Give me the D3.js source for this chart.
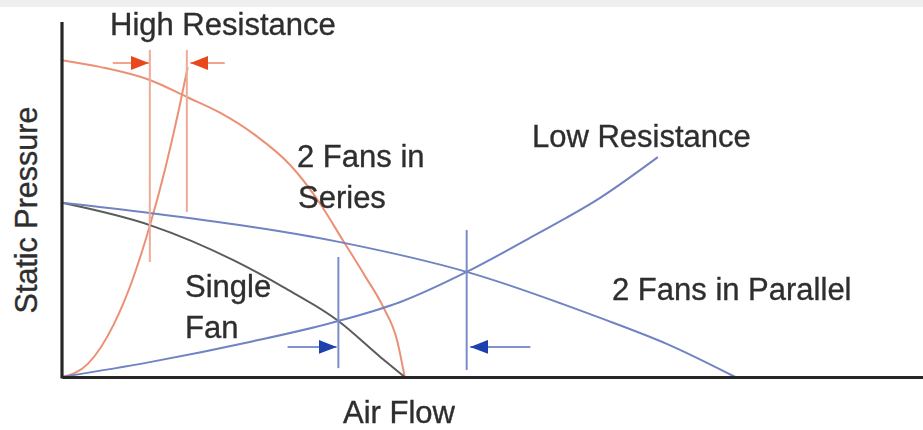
<!DOCTYPE html>
<head>
<meta charset="utf-8">
<title>Fans in Series and Parallel</title>
<script src="https://d3js.org/d3.v7.min.js"></script>
<style>
  body { margin: 0; background: #fff; }
  text { font-family: "Liberation Sans", Arial, Helvetica, sans-serif; fill: #2e2e2e; stroke: #2e2e2e; stroke-width: 0.35px; }
</style>
</head>
<body>
<div id="fan_chart"></div>
<script>
// curves (x = air flow 0-100, y = static pressure 0-100)
var seriesFans = [[0,89.5],[4.4,87.6],[10.2,83.9],[14.5,79.1],[18.4,74.6],[22.4,68.4],[26.5,59.9],[29.7,50],[32.6,38.7],[35.2,28.5],[37.3,19.8],[38.9,10.5],[39.8,0]];
var singleFan = [[0,49.2],[10.2,42.9],[19.9,33],[25.7,25.4],[32.1,15.8],[37,5.6],[39.8,0]];
var parallelFans = [[0,49.2],[10.2,46.3],[32.3,38.1],[47,29.7],[62.5,16.7],[70.3,9.3],[78.2,0]];
var lowResistance = [[0,0],[10.2,4.2],[21.8,9.9],[32.1,15.8],[39.3,21.2],[47,29.7],[54.7,39.8],[62.5,50.6],[69.2,62.1]];
var highResistance = [[0,0],[3,3.7],[6,14.8],[8,26.2],[10.2,42.7],[12,59],[13.5,74.7],[14.6,87.5]];

// operating point markers: [x, yFrom, yTo]
var orangeGuides = [[10.2,92.4,32.5],[14.5,92.4,46.6]];
var blueGuides = [[32.1,33.9,2.5],[47,41.5,2]];
// arrows: [xFrom, xTo, y]
var orangeArrows = [[5.9,10.1,88.7],[18.9,14.9,88.7]];
var blueArrows = [[26.2,31.9,8.5],[54.4,47.4,8.5]];

var labels = [
  {t: "High Resistance", x: 110, y: 35},
  {t: "2 Fans in", x: 297, y: 167},
  {t: "Series", x: 298, y: 208},
  {t: "Single", x: 185, y: 297},
  {t: "Fan", x: 185, y: 338},
  {t: "Low Resistance", x: 532, y: 147},
  {t: "2 Fans in Parallel", x: 612, y: 300},
  {t: "Air Flow", x: 343, y: 423}
];

var width = 923, height = 430;

var svg = d3.select("#fan_chart")
  .append("svg")
    .attr("width", width)
    .attr("height", height);

var defs = svg.append("defs");
defs.append("filter").attr("id", "soft")
  .append("feGaussianBlur").attr("stdDeviation", 0.55);

function head(id, color) {
  defs.append("marker")
    .attr("id", id)
    .attr("viewBox", "0 0 18 14")
    .attr("refX", 18).attr("refY", 7)
    .attr("markerUnits", "userSpaceOnUse")
    .attr("markerWidth", 18).attr("markerHeight", 14)
    .attr("orient", "auto")
    .append("path")
      .attr("d", "M0,0L18,7L0,14Z")
      .attr("fill", color);
}
head("headOrange", "#e8491c");
head("headBlue", "#1f3fae");

svg.append("rect")
  .attr("width", width).attr("height", 7)
  .attr("fill", "#efefef");

var g = svg.append("g").attr("filter", "url(#soft)");

var x = d3.scaleLinear().domain([0, 100]).range([62, 923]);
var y = d3.scaleLinear().domain([0, 100]).range([377, 23]);

var line = d3.line()
  .x(function(d) { return x(d[0]); })
  .y(function(d) { return y(d[1]); })
  .curve(d3.curveMonotoneX);

var curves = [
  {data: seriesFans, color: "#ec9075"},
  {data: highResistance, color: "#ec9075"},
  {data: singleFan, color: "#5b5b5b"},
  {data: parallelFans, color: "#7083c2"},
  {data: lowResistance, color: "#7083c2"}
];

g.selectAll(".curve")
  .data(curves)
  .enter()
  .append("path")
    .attr("class", "curve")
    .attr("d", function(d) { return line(d.data); })
    .attr("fill", "none")
    .attr("stroke", function(d) { return d.color; })
    .attr("stroke-width", 2);

g.selectAll(".oguide")
  .data(orangeGuides)
  .enter()
  .append("line")
    .attr("x1", function(d) { return x(d[0]); })
    .attr("x2", function(d) { return x(d[0]); })
    .attr("y1", function(d) { return y(d[1]); })
    .attr("y2", function(d) { return y(d[2]); })
    .attr("stroke", "#eeab95")
    .attr("stroke-width", 2);

g.selectAll(".bguide")
  .data(blueGuides)
  .enter()
  .append("line")
    .attr("x1", function(d) { return x(d[0]); })
    .attr("x2", function(d) { return x(d[0]); })
    .attr("y1", function(d) { return y(d[1]); })
    .attr("y2", function(d) { return y(d[2]); })
    .attr("stroke", "#7a8cc8")
    .attr("stroke-width", 2);

g.selectAll(".oarrow")
  .data(orangeArrows)
  .enter()
  .append("line")
    .attr("x1", function(d) { return x(d[0]); })
    .attr("x2", function(d) { return x(d[1]); })
    .attr("y1", function(d) { return y(d[2]); })
    .attr("y2", function(d) { return y(d[2]); })
    .attr("stroke", "#f0a58c")
    .attr("stroke-width", 2)
    .attr("marker-end", "url(#headOrange)");

g.selectAll(".barrow")
  .data(blueArrows)
  .enter()
  .append("line")
    .attr("x1", function(d) { return x(d[0]); })
    .attr("x2", function(d) { return x(d[1]); })
    .attr("y1", function(d) { return y(d[2]); })
    .attr("y2", function(d) { return y(d[2]); })
    .attr("stroke", "#8193cc")
    .attr("stroke-width", 2)
    .attr("marker-end", "url(#headBlue)");

// axes without ticks, just the two dark lines
var xAxis = g.append("g")
  .attr("transform", "translate(0," + y(0) + ")")
  .call(d3.axisBottom(x).ticks(0).tickSizeOuter(0));
var yAxis = g.append("g")
  .attr("transform", "translate(" + x(0) + ",0)")
  .call(d3.axisLeft(y).ticks(0).tickSizeOuter(0));
g.selectAll(".domain")
  .attr("stroke", "#262626")
  .attr("stroke-width", 3.2);
yAxis.select(".domain").attr("d", "M0," + (y(0) + 1.5) + "V" + (y(100) - 1));

var t = svg.append("g");
t.selectAll(".label")
  .data(labels)
  .enter()
  .append("text")
    .attr("class", "label")
    .attr("x", function(d) { return d.x; })
    .attr("y", function(d) { return d.y; })
    .style("font-size", "31px")
    .text(function(d) { return d.t; });

t.append("text")
  .attr("transform", "translate(37,210)rotate(-90)")
  .style("text-anchor", "middle")
  .style("font-size", "30.5px")
  .text("Static Pressure");
</script>
</body>
